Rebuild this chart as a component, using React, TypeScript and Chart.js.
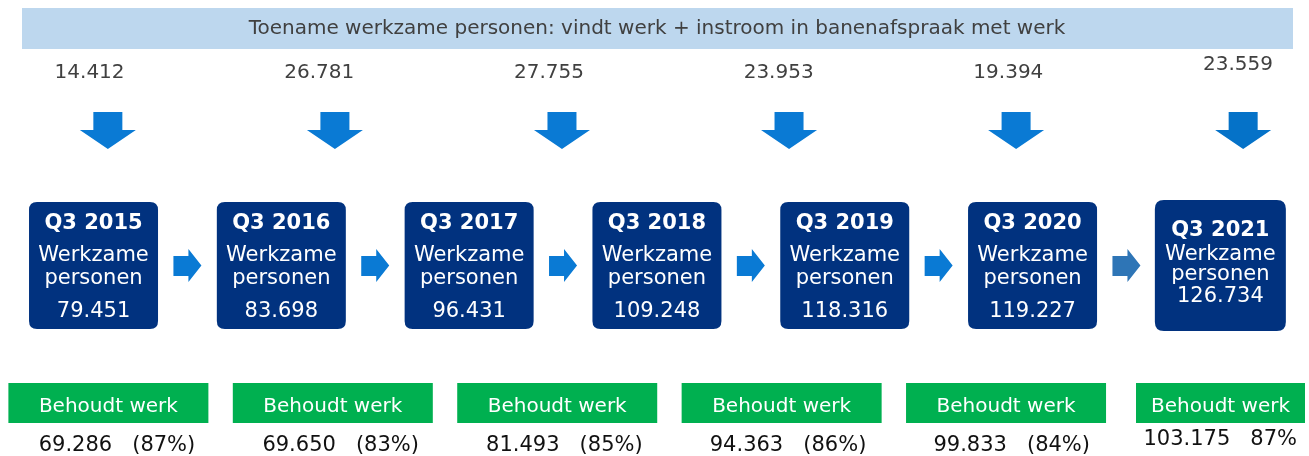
import React, { useEffect, useRef } from "react";
import { Chart, registerables } from "chart.js";

Chart.register(...registerables);

// ---------- data ----------
const headerText = "Toename werkzame personen: vindt werk + instroom in banenafspraak met werk";
const quarters = ["Q3 2015", "Q3 2016", "Q3 2017", "Q3 2018", "Q3 2019", "Q3 2020", "Q3 2021"];
const boxLines = ["Werkzame", "personen"];
const werkzamePersonen = [79451, 83698, 96431, 109248, 118316, 119227, 126734];
const toename = [14412, 26781, 27755, 23953, 19394, 23559];
const greenLabel = "Behoudt werk";
const behoudtWerk = [69286, 69650, 81493, 94363, 99833, 103175];
const behoudtPctLabels = ["(87%)", "(83%)", "(85%)", "(86%)", "(84%)", "87%"];

// ---------- styles ----------
const FONT = '"DejaVu Sans", Verdana, sans-serif';
const C_HEADER_BG = "#BDD7EE";
const C_GREY_TEXT = "#404040";
const C_ARROW = "#0A7AD4";
const C_ARROW_LAST = "#2E75B6";
const C_BOX = "#01327F";
const C_GREEN = "#00B050";
const C_BLACK = "#111111";

const fmt = (n: number) => String(n).replace(/\B(?=(\d{3})+(?!\d))/g, ".");

function drawText(
  ctx: CanvasRenderingContext2D,
  s: string,
  x: number,
  y: number,
  font: string,
  color: string,
  baseline: CanvasTextBaseline = "alphabetic",
  maxRight?: number
) {
  ctx.font = font;
  ctx.fillStyle = color;
  ctx.textAlign = "center";
  ctx.textBaseline = baseline;
  let cx = x;
  if (maxRight !== undefined) {
    const w = ctx.measureText(s).width;
    cx = Math.min(cx, maxRight - w / 2);
  }
  ctx.fillText(s, cx, y);
}

function roundRect(ctx: CanvasRenderingContext2D, x: number, y: number, w: number, h: number, r: number) {
  ctx.beginPath();
  ctx.moveTo(x + r, y);
  ctx.lineTo(x + w - r, y);
  ctx.quadraticCurveTo(x + w, y, x + w, y + r);
  ctx.lineTo(x + w, y + h - r);
  ctx.quadraticCurveTo(x + w, y + h, x + w - r, y + h);
  ctx.lineTo(x + r, y + h);
  ctx.quadraticCurveTo(x, y + h, x, y + h - r);
  ctx.lineTo(x, y + r);
  ctx.quadraticCurveTo(x, y, x + r, y);
  ctx.closePath();
}

const infographicPlugin = {
  id: "infographic",
  afterDraw(chart: any) {
    const ctx: CanvasRenderingContext2D = chart.ctx;
    const { xBox, xTop, xArrow, xGreen, xBottom } = chart.scales;
    const top = chart.chartArea.top;
    const W = chart.width;

    ctx.save();

    // header bar
    ctx.fillStyle = C_HEADER_BG;
    ctx.fillRect(22, top + 8, 1271, 41);
    drawText(ctx, headerText, 657, top + 29, `20px ${FONT}`, C_GREY_TEXT, "middle");

    // increase values + down arrows
    toename.forEach((v, i) => {
      const last = i === toename.length - 1;
      const xt = xTop.getPixelForValue(i);
      drawText(ctx, fmt(v), xt, top + (last ? 70 : 78), `20px ${FONT}`, C_GREY_TEXT, "alphabetic", W - 36);
      const xa = xArrow.getPixelForValue(i);
      ctx.fillStyle = last ? "#0572C8" : C_ARROW;
      ctx.beginPath();
      ctx.moveTo(xa - 14.5, top + 112);
      ctx.lineTo(xa + 14.5, top + 112);
      ctx.lineTo(xa + 14.5, top + 130);
      ctx.lineTo(xa + 28, top + 130);
      ctx.lineTo(xa, top + 149);
      ctx.lineTo(xa - 28, top + 130);
      ctx.lineTo(xa - 14.5, top + 130);
      ctx.closePath();
      ctx.fill();
    });

    // dark boxes
    quarters.forEach((q, i) => {
      const last = i === quarters.length - 1;
      const xc = xBox.getPixelForValue(i);
      ctx.fillStyle = C_BOX;
      if (last) {
        roundRect(ctx, xc - 65.5, top + 200, 131, 131, 9);
      } else {
        roundRect(ctx, xc - 64.5, top + 202, 129, 127, 8);
      }
      ctx.fill();
      const ys = last ? [236, 260, 280, 302] : [229, 261, 284, 317];
      drawText(ctx, q, xc, top + ys[0], `bold 21px ${FONT}`, "#FFFFFF");
      drawText(ctx, boxLines[0], xc, top + ys[1], `21px ${FONT}`, "#FFFFFF");
      drawText(ctx, boxLines[1], xc, top + ys[2], `21px ${FONT}`, "#FFFFFF");
      drawText(ctx, fmt(werkzamePersonen[i]), xc, top + ys[3], `21px ${FONT}`, "#FFFFFF");

      // right arrow to next box
      if (i < quarters.length - 1) {
        const xm = xBox.getPixelForValue(i + 0.5);
        ctx.fillStyle = i === quarters.length - 2 ? C_ARROW_LAST : C_ARROW;
        ctx.beginPath();
        ctx.moveTo(xm - 14, top + 256);
        ctx.lineTo(xm + 1, top + 256);
        ctx.lineTo(xm + 1, top + 249);
        ctx.lineTo(xm + 14, top + 265.5);
        ctx.lineTo(xm + 1, top + 282);
        ctx.lineTo(xm + 1, top + 276);
        ctx.lineTo(xm - 14, top + 276);
        ctx.closePath();
        ctx.fill();
      }
    });

    // green boxes + bottom values
    behoudtWerk.forEach((v, i) => {
      const last = i === behoudtWerk.length - 1;
      const xg = xGreen.getPixelForValue(i);
      const right = Math.min(W - 4, xg + 100);
      const left = last ? right - 169 : Math.max(4, xg - 100);
      ctx.fillStyle = C_GREEN;
      ctx.fillRect(left, top + 383, right - left, 40);
      drawText(ctx, greenLabel, (left + right) / 2, top + 412, `20px ${FONT}`, "#FFFFFF");
      const xb = xBottom.getPixelForValue(i);
      drawText(
        ctx,
        `${fmt(v)}   ${behoudtPctLabels[i]}`,
        xb,
        top + (last ? 445 : 451),
        `21px ${FONT}`,
        C_BLACK,
        "alphabetic",
        W - 12
      );
    });

    ctx.restore();
  },
};

export default function App() {
  const ref = useRef<HTMLCanvasElement>(null);

  useEffect(() => {
    document.body.style.margin = "0";
    const hiddenX = (min: number, max: number) => ({
      type: "linear" as const,
      axis: "x" as const,
      display: false,
      min,
      max,
    });
    const chart = new Chart(ref.current as HTMLCanvasElement, {
      type: "scatter",
      data: {
        datasets: [
          {
            label: "Werkzame personen",
            data: werkzamePersonen.map((v, i) => ({ x: i, y: v })),
            xAxisID: "xBox",
            pointRadius: 0,
            pointHoverRadius: 0,
          },
          {
            label: "Toename",
            data: toename.map((v, i) => ({ x: i, y: v })),
            xAxisID: "xTop",
            pointRadius: 0,
            pointHoverRadius: 0,
          },
          {
            label: "Behoudt werk",
            data: behoudtWerk.map((v, i) => ({ x: i, y: v })),
            xAxisID: "xBottom",
            pointRadius: 0,
            pointHoverRadius: 0,
          },
        ],
      },
      options: {
        animation: false,
        responsive: false,
        devicePixelRatio: 1,
        events: [],
        layout: { padding: 0 },
        plugins: { legend: { display: false }, tooltip: { enabled: false } },
        scales: {
          xBox: hiddenX(-0.498, 6.472),
          xTop: hiddenX(-0.39, 5.309),
          xArrow: hiddenX(-0.475, 5.29),
          xGreen: hiddenX(-0.483, 5.35),
          xBottom: hiddenX(-0.523, 5.329),
          y: { type: "linear", display: false, min: 0, max: 200000 },
        },
      } as any,
      plugins: [infographicPlugin],
    });
    return () => chart.destroy();
  }, []);

  return (
    <div style={{ width: 1309, height: 456 }}>
      <canvas ref={ref} width={1309} height={456} style={{ display: "block" }} />
    </div>
  );
}
